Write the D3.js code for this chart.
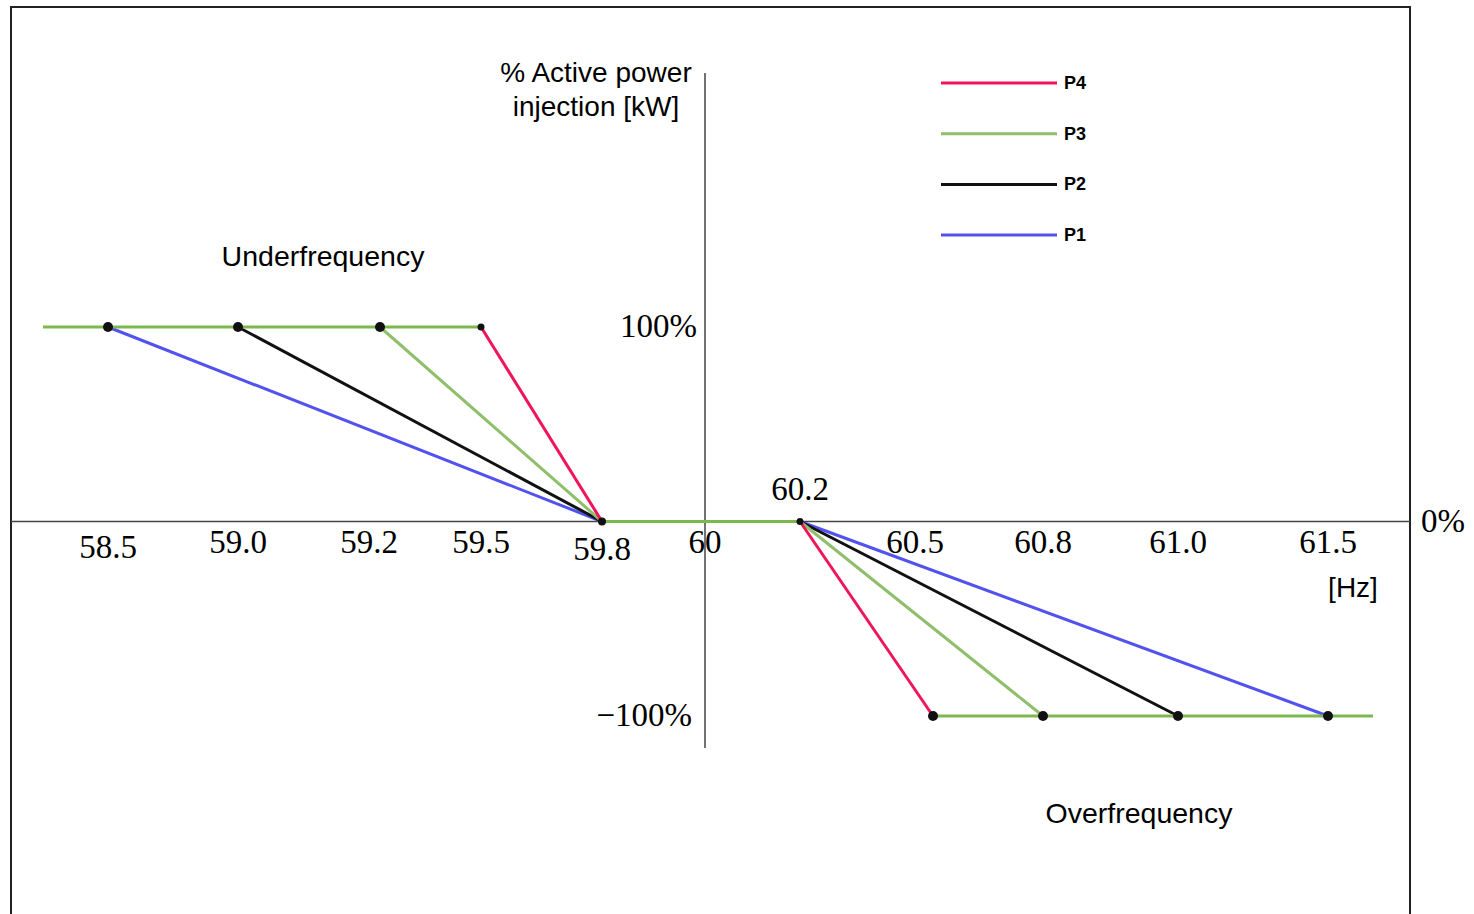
<!DOCTYPE html>
<html>
<head>
<meta charset="utf-8">
<script src="https://cdn.jsdelivr.net/npm/d3@7"></script>
<style>
  body { margin: 0; background: #fff; }
  .serif { font-family: "Liberation Serif", "DejaVu Serif", serif; }
  .sans { font-family: "Liberation Sans", Arial, sans-serif; }
</style>
</head>
<body>
<div id="chart"></div>
<script>
// frequency ticks on the axis (Hz) and their labels
const freqTicks = [58.5, 59.0, 59.2, 59.5, 59.8, 60, 60.2, 60.5, 60.8, 61.0, 61.5];
const tickLabels = ["58.5", "59.0", "59.2", "59.5", "59.8", "60", "60.2", "60.5", "60.8", "61.0", "61.5"];

// curves: P4..P1
const seriesNames = ["P4", "P3", "P2", "P1"];
const underStart = [59.5, 59.2, 59.0, 58.5];   // Hz where 100% starts to drop
const underZero = 59.8;
const overZero = 60.2;
const overEnd = [60.5, 60.8, 61.0, 61.5];      // Hz where -100% is reached
const flatLeft = 58.25;
const flatRight = 61.65;

const powerTicks = [1, 0, -1];
const powerLabels = ["100%", "0%", "\u2212100%"];

const colors = { P4: "#f0145a", P3: "#8fbf6a", P2: "#111111", P1: "#5252ee" };
const flatColor = "#7cb84e";

const width = 1474, height = 914;

const svg = d3.select("#chart")
    .append("svg")
    .attr("width", width)
    .attr("height", height);

// the drawing's frequency axis is not evenly spaced, so use a piecewise scale
const x = d3.scaleLinear()
    .domain(freqTicks)
    .range([108, 238, 380, 481, 602, 705, 800, 933, 1043, 1178, 1328]);

const y = d3.scaleLinear()
    .domain([-1, 1])
    .range([716, 327]);

// frame (open at the bottom)
svg.append("path")
    .attr("d", `M11,${height} V7 H1410 V${height}`)
    .attr("fill", "none")
    .attr("stroke", "#222")
    .attr("stroke-width", 2);

// axes
svg.append("line")
    .attr("x1", 11).attr("x2", 1410)
    .attr("y1", y(0)).attr("y2", y(0))
    .attr("stroke", "#444").attr("stroke-width", 1.5);
svg.append("line")
    .attr("x1", x(60)).attr("x2", x(60))
    .attr("y1", 73).attr("y2", 748)
    .attr("stroke", "#444").attr("stroke-width", 1.5);

// tick labels (a couple sit a little off their tick in the drawing)
const labelY = { "58.5": 558, "59.8": 560 };
const labelDx = { "59.2": -11, "60.5": -18 };
svg.append("g")
    .selectAll("text")
    .data(freqTicks.filter(f => f !== 60.2))
    .join("text")
    .attr("class", "serif")
    .attr("x", d => x(d) + (labelDx[tickLabels[freqTicks.indexOf(d)]] || 0))
    .attr("y", d => labelY[tickLabels[freqTicks.indexOf(d)]] || 553)
    .attr("text-anchor", "middle")
    .style("font-size", "33px")
    .text(d => tickLabels[freqTicks.indexOf(d)]);

svg.append("text")
    .attr("class", "serif")
    .attr("x", x(60.2))
    .attr("y", y(0) - 22)
    .attr("text-anchor", "middle")
    .style("font-size", "33px")
    .text(tickLabels[freqTicks.indexOf(60.2)]);

svg.append("text").attr("class", "serif")
    .attr("x", x(60) - 8).attr("y", y(powerTicks[0]) + 10)
    .attr("text-anchor", "end").style("font-size", "33px")
    .text(powerLabels[0]);
svg.append("text").attr("class", "serif")
    .attr("x", 1421).attr("y", y(powerTicks[1]) + 10)
    .attr("text-anchor", "start").style("font-size", "33px")
    .text(powerLabels[1]);
svg.append("text").attr("class", "serif")
    .attr("x", x(60) - 13).attr("y", y(powerTicks[2]) + 10)
    .attr("text-anchor", "end").style("font-size", "33px")
    .text(powerLabels[2]);

// diagonal segments
const segs = [];
seriesNames.forEach((name, i) => {
    segs.push({ name, p: [[underStart[i], 1], [underZero, 0]] });
    segs.push({ name, p: [[overZero, 0], [overEnd[i], -1]] });
});
const line = d3.line().x(d => x(d[0])).y(d => y(d[1]));

svg.append("g")
    .selectAll("path")
    .data(segs.slice().reverse())
    .join("path")
    .attr("d", d => line(d.p))
    .attr("fill", "none")
    .attr("stroke", d => colors[d.name])
    .attr("stroke-width", 3);

// flat portions
const flats = [
    [[flatLeft, 1], [d3.max(underStart), 1]],
    [[underZero, 0], [overZero, 0]],
    [[d3.min(overEnd), -1], [flatRight, -1]]
];
svg.append("g")
    .selectAll("path")
    .data(flats)
    .join("path")
    .attr("d", line)
    .attr("fill", "none")
    .attr("stroke", flatColor)
    .attr("stroke-width", 3);

// breakpoints
const dots = [];
underStart.forEach((f, i) => dots.push({ f, v: 1, r: f === 59.5 ? 3.5 : 5 }));
overEnd.forEach(f => dots.push({ f, v: -1, r: 5 }));
dots.push({ f: underZero, v: 0, r: 4 });
dots.push({ f: overZero, v: 0, r: 3.5 });
svg.append("g")
    .selectAll("circle")
    .data(dots)
    .join("circle")
    .attr("cx", d => x(d.f))
    .attr("cy", d => y(d.v))
    .attr("r", d => d.r)
    .attr("fill", "#111");

// titles
svg.append("text").attr("class", "sans")
    .attr("x", 596).attr("y", 82).attr("text-anchor", "middle")
    .style("font-size", "28px").text("% Active power");
svg.append("text").attr("class", "sans")
    .attr("x", 596).attr("y", 116).attr("text-anchor", "middle")
    .style("font-size", "28px").text("injection [kW]");
svg.append("text").attr("class", "sans")
    .attr("x", 1353).attr("y", 597).attr("text-anchor", "middle")
    .style("font-size", "28px").text("[Hz]");
svg.append("text").attr("class", "sans")
    .attr("x", 323).attr("y", 266).attr("text-anchor", "middle")
    .style("font-size", "28.5px").text("Underfrequency");
svg.append("text").attr("class", "sans")
    .attr("x", 1139).attr("y", 823).attr("text-anchor", "middle")
    .style("font-size", "28.5px").text("Overfrequency");

// legend
const legend = svg.append("g").attr("transform", "translate(941,83)");
const item = legend.selectAll("g")
    .data(seriesNames)
    .join("g")
    .attr("transform", (d, i) => `translate(0,${i * 50.7})`);
item.append("line")
    .attr("x1", 0).attr("x2", 116)
    .attr("stroke", d => colors[d])
    .attr("stroke-width", 3);
item.append("text")
    .attr("class", "sans")
    .attr("x", 123).attr("y", 6)
    .style("font-size", "18px")
    .style("font-weight", "bold")
    .text(d => d);
</script>
</body>
</html>
